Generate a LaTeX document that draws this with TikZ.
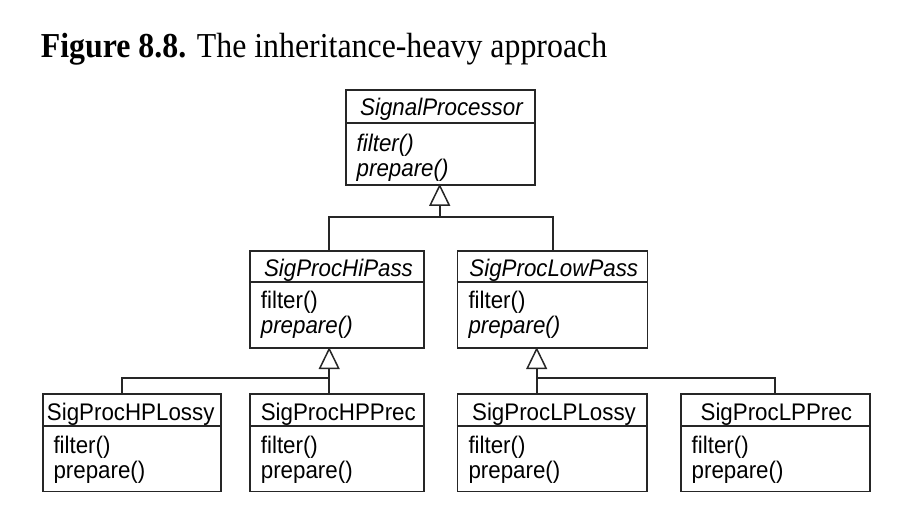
\documentclass[tikz,border=0pt]{standalone}
\usepackage{fontspec}
\newfontfamily\umlfont[FakeStretch=0.93]{Liberation Sans}
\newfontfamily\titlefont[FakeStretch=0.91]{Liberation Serif}
\tikzset{
  box/.style={draw=black!85, line width=1.6pt},
  conn/.style={draw=black!85, line width=1.6pt},
  tri/.style={draw=black!85, line width=1.5pt, fill=white, line join=miter},
  cname/.style={anchor=base, inner sep=0pt, font=\umlfont\fontsize{24}{28}\selectfont},
  meth/.style={anchor=base west, inner sep=0pt, font=\umlfont\fontsize{24}{28}\selectfont},
}
\begin{document}
\begin{tikzpicture}[x=1pt, y=-1pt]
\useasboundingbox (0,0) rectangle (910,520);
\node[anchor=base west, inner sep=0pt, font=\titlefont\fontsize{35}{40}\selectfont] (title) at (40.7,57.3) {\textbf{Figure 8.8.} The inheritance-heavy approach};

% SignalProcessor
\node[box, anchor=north west, minimum width=189pt, minimum height=95pt, inner sep=0pt] (sp) at (345,89) {};
\draw[box] (345,123) -- (534,123);
\node[cname] (spn) at (441.5,115) {\itshape SignalProcessor};
\node[meth] (spm1) at (356.5,151) {\itshape filter()};
\node[meth] (spm2) at (356.5,176) {\itshape prepare()};

% SigProcHiPass
\node[box, anchor=north west, minimum width=174pt, minimum height=97.3pt, inner sep=0pt] (hi) at (249.3,250) {};
\draw[box] (249.3,281.7) -- (423.3,281.7);
\node[cname] (hin) at (338.5,276) {\itshape SigProcHiPass};
\node[meth] (him1) at (260.7,308) {filter()};
\node[meth] (him2) at (260.7,333) {\itshape prepare()};

% SigProcLowPass
\node[box, anchor=north west, minimum width=190pt, minimum height=97.3pt, inner sep=0pt] (lo) at (456.7,250) {};
\draw[box] (456.7,281.7) -- (646.7,281.7);
\node[cname] (lon) at (553.8,276) {\itshape SigProcLowPass};
\node[meth] (lom1) at (468.3,308) {filter()};
\node[meth] (lom2) at (468.3,333) {\itshape prepare()};

% SigProcHPLossy
\node[box, anchor=north west, minimum width=178pt, minimum height=97.4pt, inner sep=0pt] (hpl) at (42,393.3) {};
\draw[box] (42,425.7) -- (220,425.7);
\node[cname] (hpln) at (130.7,420) {SigProcHPLossy};
\node[meth] (hplm1) at (53.3,453) {filter()};
\node[meth] (hplm2) at (53.3,478) {prepare()};

% SigProcHPPrec
\node[box, anchor=north west, minimum width=174pt, minimum height=97.4pt, inner sep=0pt] (hpp) at (249.3,393.3) {};
\draw[box] (249.3,425.7) -- (423.3,425.7);
\node[cname] (hppn) at (338.3,420) {SigProcHPPrec};
\node[meth] (hppm1) at (260.7,453) {filter()};
\node[meth] (hppm2) at (260.7,478) {prepare()};

% SigProcLPLossy
\node[box, anchor=north west, minimum width=189.3pt, minimum height=97.4pt, inner sep=0pt] (lpl) at (456.7,393.3) {};
\draw[box] (456.7,425.7) -- (646,425.7);
\node[cname] (lpln) at (554,420) {SigProcLPLossy};
\node[meth] (lplm1) at (468.3,453) {filter()};
\node[meth] (lplm2) at (468.3,478) {prepare()};

% SigProcLPPrec
\node[box, anchor=north west, minimum width=189.3pt, minimum height=97.4pt, inner sep=0pt] (lpp) at (680,393.3) {};
\draw[box] (680,425.7) -- (869.3,425.7);
\node[cname] (lppn) at (776.3,420) {SigProcLPPrec};
\node[meth] (lppm1) at (691.5,453) {filter()};
\node[meth] (lppm2) at (691.5,478) {prepare()};

% connectors
\coordinate (j1) at (439.7,217);
\coordinate (j2) at (329.2,377.7);
\coordinate (j3) at (536.7,377.7);
\draw[conn] (j1) -- ++(0,-12);
\draw[tri] (j1 |- sp.south) -- ++(-9.5,19.5) -- ++(19,0) -- cycle;
\draw[conn] (hi.north -| 329,0) |- (j1) -| (lo.north -| 552.7,0);
\draw[conn] (j2) -- ++(0,-12);
\draw[tri] (j2 |- hi.south) -- ++(-9.5,19.5) -- ++(19,0) -- cycle;
\draw[conn] (hpl.north -| 121.7,0) |- (j2) -- (j2 |- hpp.north);
\draw[conn] (j3) -- ++(0,-12);
\draw[tri] (j3 |- lo.south) -- ++(-9.5,19.5) -- ++(19,0) -- cycle;
\draw[conn] (j3 |- lpl.north) -- (j3) -| (lpp.north -| 775,0);
\end{tikzpicture}
\end{document}
